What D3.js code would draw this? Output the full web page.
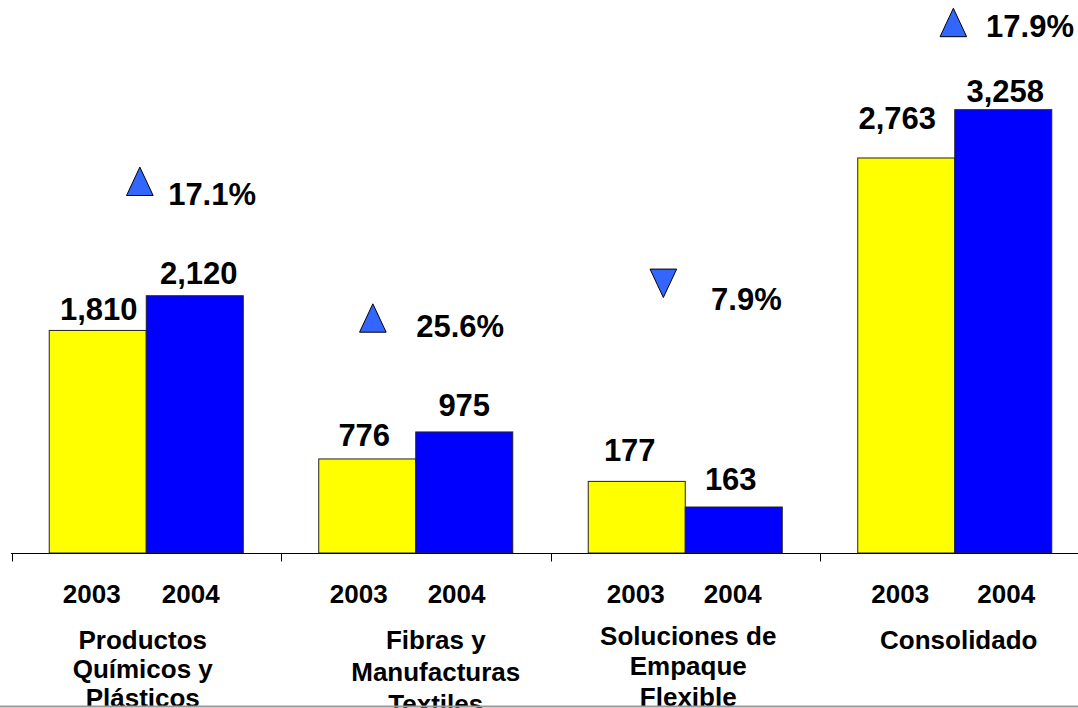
<!DOCTYPE html>
<html>
<head>
<meta charset="utf-8">
<script src="https://cdn.jsdelivr.net/npm/d3@7"></script>
<style>
  html, body { margin: 0; padding: 0; background: #ffffff; }
  svg { display: block; }
  text { font-family: "Liberation Sans", Arial, Helvetica, sans-serif; font-weight: bold; fill: #000; }
</style>
</head>
<body>
<svg id="chart" width="1078" height="708"></svg>
<script>
// ---------------- DATA ----------------
const categories = ["Productos Químicos y Plásticos", "Fibras y Manufacturas Textiles", "Soluciones de Empaque Flexible", "Consolidado"];
const categoryLines = [["Productos", "Químicos y", "Plásticos"], ["Fibras y", "Manufacturas", "Textiles"], ["Soluciones de", "Empaque", "Flexible"], ["Consolidado"]];
const years = ["2003", "2004"];
const values2003 = [1810, 776, 177, 2763];
const values2004 = [2120, 975, 163, 3258];
const changePct = [17.1, 25.6, -7.9, 17.9];

// ---------------- LAYOUT CONFIG ----------------
// each panel of the original slide was an independent chart with its own value axis
const groupDomains = [[-179, 4763], [83, 4158], [137.85, 440.2], [-1285, 4382]];
const valueLabelNudge2003 = [[1, -10], [-3, -13], [-7, -20], [-9, -29]];
const valueLabelNudge2004 = [[4, -12], [0, -16], [-3, -17], [2, -8]];
const yearLabelNudge = [[-6, -4], [-8.5, -7.7], [-1, -1], [-6, 3]];
const annotTriangle = [[-6.4, 181.3], [-42.9, 318], [-21.9, 283.3], [-1.4, 22.5]];
const annotText = [[21.9, 205], [0.5, 337.3], [25.8, 310], [31.3, 37.3]];
const catLabelDx = [-3.5, 20, 3, 4];
const catLabelFirst = [648.5, 648.5, 644.5, 648.5];
const catLineHeight = [29, 32, 30.5, 30];

const colors = { "2003": "#FFFF00", "2004": "#0000FF" };

// ---------------- DRAW ----------------
const svg = d3.select("#chart");
const baseY = 553;

const x0 = d3.scaleBand().domain(categories).range([11.5, 11.5 + 269.5 * 4]).paddingInner(0).paddingOuter(0);
const x1 = d3.scaleBand().domain(years).range([0, x0.bandwidth()]).paddingInner(0).paddingOuter(0.389);
const yScales = groupDomains.map(d => d3.scaleLinear().domain(d).range([baseY, 0]));

const rows = categories.map((c, i) => ({
  cat: c, i,
  vals: [
    { year: "2003", v: values2003[i], nudge: valueLabelNudge2003[i] },
    { year: "2004", v: values2004[i], nudge: valueLabelNudge2004[i] }
  ]
}));

const g = svg.selectAll("g.grp").data(rows).join("g")
  .attr("class", "grp")
  .attr("transform", d => `translate(${x0(d.cat)},0)`);

// bars
g.selectAll("rect").data(d => d.vals.map(v => ({ ...v, i: d.i }))).join("rect")
  .attr("x", d => x1(d.year))
  .attr("width", x1.bandwidth())
  .attr("y", d => yScales[d.i](d.v))
  .attr("height", d => baseY - yScales[d.i](d.v))
  .attr("fill", d => colors[d.year])
  .attr("stroke", "#222")
  .attr("stroke-width", 1);

// value labels
const fmt = d3.format(",");
g.selectAll("text.val").data(d => d.vals.map(v => ({ ...v, i: d.i }))).join("text")
  .attr("class", "val")
  .attr("x", d => x1(d.year) + x1.bandwidth() / 2 + d.nudge[0])
  .attr("y", d => yScales[d.i](d.v) + d.nudge[1])
  .attr("text-anchor", "middle")
  .style("font-size", "31px")
  .text(d => fmt(d.v));

// axis
const axis = d3.axisBottom(x0).tickSize(0).tickFormat("");
const axisG = svg.append("g").attr("transform", `translate(0,${baseY + 0.5})`).call(axis);
axisG.select(".domain").attr("d", `M11,0H1078`).attr("stroke", "#000").attr("stroke-width", 1);
// boundary ticks between categories
const boundaries = categories.map(c => x0(c)).concat([x0(categories[categories.length - 1]) + x0.bandwidth()]);
axisG.selectAll("line.bound").data(boundaries).join("line")
  .attr("class", "bound")
  .attr("x1", d => Math.round(d) + 0.5).attr("x2", d => Math.round(d) + 0.5)
  .attr("y1", 0).attr("y2", 8)
  .attr("stroke", "#000").attr("stroke-width", 1);

// year labels
g.selectAll("text.yr").data(d => years.map((y, k) => ({ y, k, i: d.i }))).join("text")
  .attr("class", "yr")
  .attr("x", d => x1(d.y) + x1.bandwidth() / 2 + yearLabelNudge[d.i][d.k])
  .attr("y", 603)
  .attr("text-anchor", "middle")
  .style("font-size", "26px")
  .text(d => d.y);

// category labels
g.append("text")
  .attr("class", "cat")
  .attr("text-anchor", "middle")
  .style("font-size", "26px")
  .each(function (d) {
    const t = d3.select(this);
    categoryLines[d.i].forEach((line, k) => {
      t.append("tspan")
        .attr("x", x0.bandwidth() / 2 + catLabelDx[d.i])
        .attr("y", catLabelFirst[d.i] + k * catLineHeight[d.i])
        .text(line);
    });
  });

// change annotations
const triW = 26.6, triH = 28.4;
g.append("path")
  .attr("d", d => {
    const cx = x0.bandwidth() / 2 + annotTriangle[d.i][0];
    const cy = annotTriangle[d.i][1];
    const up = changePct[d.i] >= 0;
    const p = d3.path();
    if (up) {
      p.moveTo(cx, cy - triH / 2); p.lineTo(cx + triW / 2, cy + triH / 2); p.lineTo(cx - triW / 2, cy + triH / 2);
    } else {
      p.moveTo(cx, cy + triH / 2); p.lineTo(cx + triW / 2, cy - triH / 2); p.lineTo(cx - triW / 2, cy - triH / 2);
    }
    p.closePath();
    return p.toString();
  })
  .attr("fill", "#3366FF")
  .attr("stroke", "#000")
  .attr("stroke-width", 1);

g.append("text")
  .attr("class", "pct")
  .attr("x", d => x0.bandwidth() / 2 + annotText[d.i][0])
  .attr("y", d => annotText[d.i][1])
  .attr("text-anchor", "start")
  .style("font-size", "31px")
  .text(d => d3.format(".1f")(Math.abs(changePct[d.i])) + "%");

// slide bottom edge
svg.append("line")
  .attr("x1", 0).attr("x2", 1078).attr("y1", 706.5).attr("y2", 706.5)
  .attr("stroke", "#9a9a9a").attr("stroke-width", 2);
</script>
</body>
</html>
